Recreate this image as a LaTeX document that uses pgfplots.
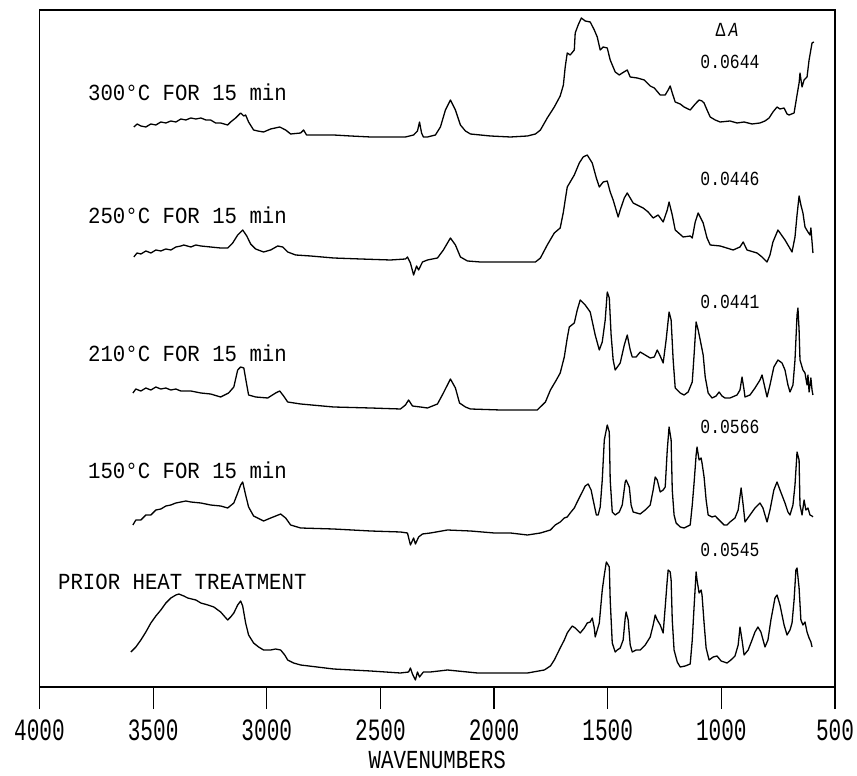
\documentclass[border=0pt]{standalone}
\usepackage{pgfplots}
\pgfplotsset{compat=1.18}
\usepackage{fontspec}
\setmainfont{Liberation Mono}
\newfontfamily\labfont{Liberation Mono}[FakeStretch=0.9]
\newfontfamily\numfont{Liberation Mono}[FakeStretch=0.82]
\newfontfamily\tickfont{Liberation Mono}[FakeStretch=0.68]
\newfontfamily\xlabfont{Liberation Mono}[FakeStretch=0.8]

\pgfplotstableread{
w y
3585 560
3570 563
3554 561
3532 560
3510 563
3488 562
3466 565
3444 564
3422 566
3400 565
3378 568
3356 567
3334 569
3312 568
3290 569
3268 567
3247 567
3225 564
3203 564
3172 562
3159 565
3137 569
3115 574
3101 571
3093 572
3080 565
3058 557
3040 556
3014 555
2983 558
2943 560
2917 557
2895 553
2851 554
2838 557
2825 552
2763 552
2706 552
2631 551
2543 550
2456 550
2390 550
2354 552
2337 556
2328 565
2319 554
2311 550
2293 550
2258 552
2236 560
2214 577
2192 587
2170 577
2148 562
2126 556
2104 553
2016 551
1928 550
1853 551
1818 553
1796 557
1766 569
1735 580
1709 591
1695 602
1687 620
1678 634
1665 632
1647 637
1643 654
1630 662
1616 669
1599 666
1577 665
1559 657
1546 650
1533 637
1520 640
1502 639
1489 627
1467 615
1449 612
1436 614
1414 617
1401 610
1370 609
1339 607
1313 601
1295 599
1269 592
1247 592
1234 597
1225 601
1216 594
1203 585
1181 583
1164 580
1137 577
1115 583
1098 587
1085 586
1076 584
1063 577
1049 570
1027 567
1005 565
962 566
931 564
900 565
865 563
830 564
808 566
790 569
773 575
755 580
742 578
724 579
711 573
702 572
680 574
667 592
658 604
654 614
645 600
636 607
623 610
614 627
601 644
593 645
}\specA

\pgfplotstableread{
w y
3585 430
3571 434
3554 433
3532 436
3510 434
3488 437
3466 436
3444 438
3422 437
3400 440
3378 441
3365 442
3334 440
3312 442
3290 441
3247 440
3203 439
3172 439
3150 444
3128 452
3106 457
3088 451
3071 443
3049 438
3014 435
2983 437
2952 441
2930 440
2908 435
2873 432
2807 431
2706 429
2587 428
2456 427
2390 428
2381 430
2368 424
2354 412
2341 421
2332 417
2315 425
2293 427
2249 429
2223 437
2192 449
2170 442
2148 430
2117 426
2060 425
1928 425
1818 425
1796 429
1766 442
1735 454
1709 459
1695 475
1687 487
1678 500
1665 505
1647 512
1625 524
1608 530
1590 532
1568 524
1550 509
1537 500
1520 505
1502 506
1489 495
1476 487
1454 470
1445 477
1427 489
1414 494
1388 484
1344 479
1322 475
1300 469
1278 472
1256 465
1238 477
1230 485
1216 472
1203 457
1168 450
1137 451
1128 449
1115 465
1102 474
1080 464
1063 449
1049 442
1005 441
948 437
918 440
904 445
887 437
843 434
821 430
799 425
786 432
773 445
751 457
720 447
689 435
676 450
667 472
658 491
650 482
641 474
632 460
619 455
610 452
606 459
597 434
}\specB

\pgfplotstableread{
w y
3589 294
3576 298
3554 296
3532 299
3510 297
3488 300
3466 298
3444 299
3422 297
3400 298
3378 296
3334 296
3290 294
3247 293
3203 290
3168 294
3145 300
3128 317
3115 320
3101 319
3088 302
3080 292
3049 290
2996 289
2961 294
2943 296
2926 291
2908 285
2851 283
2706 280
2543 279
2412 278
2390 282
2376 287
2359 281
2324 280
2293 279
2249 283
2223 294
2192 308
2170 299
2152 284
2126 280
2104 278
1972 277
1810 277
1774 285
1752 297
1726 307
1709 314
1691 330
1678 349
1669 360
1647 364
1634 377
1621 387
1599 382
1577 375
1555 352
1537 337
1524 345
1511 367
1502 395
1493 389
1485 352
1476 327
1467 317
1445 324
1427 342
1414 352
1401 337
1392 330
1375 330
1357 335
1335 332
1313 329
1295 330
1282 337
1269 331
1256 324
1243 347
1230 375
1221 367
1212 327
1203 299
1181 294
1164 292
1146 295
1128 305
1120 332
1111 365
1102 357
1093 347
1080 332
1071 310
1058 294
1041 289
1023 291
1010 295
997 291
984 289
962 289
931 292
918 297
909 310
900 297
896 290
874 292
852 299
830 307
821 312
808 299
799 290
786 302
769 320
751 327
733 324
720 317
707 302
698 295
685 302
676 327
667 372
663 379
658 357
654 327
641 317
632 314
623 302
619 312
614 295
606 309
601 297
597 292
}\specC

\pgfplotstableread{
w y
3589 162
3576 167
3554 167
3532 172
3510 172
3488 177
3466 178
3444 181
3422 182
3400 184
3378 185
3356 186
3334 185
3290 184
3247 182
3203 181
3172 179
3145 184
3128 194
3115 202
3106 205
3093 192
3080 180
3058 171
3040 169
3014 166
2983 169
2939 173
2917 169
2895 162
2851 159
2706 158
2543 156
2412 155
2381 154
2368 142
2354 149
2346 143
2332 150
2315 153
2280 154
2205 157
2104 156
1999 154
1928 154
1853 152
1796 154
1752 157
1731 162
1709 165
1691 169
1678 170
1665 174
1647 179
1630 187
1612 195
1599 201
1586 203
1573 197
1564 187
1550 172
1542 172
1533 180
1524 207
1515 247
1502 262
1493 255
1489 207
1480 175
1467 172
1449 175
1436 182
1423 205
1419 207
1405 200
1397 182
1388 175
1357 173
1335 177
1313 182
1300 197
1291 210
1282 207
1269 195
1256 197
1247 200
1238 237
1230 260
1221 247
1216 197
1208 172
1199 164
1181 160
1164 159
1137 162
1128 182
1120 204
1111 232
1107 240
1098 227
1089 229
1085 224
1076 210
1067 187
1058 172
1041 170
1027 171
1010 167
988 162
975 162
962 165
940 169
926 177
913 199
904 182
896 165
874 172
852 179
830 184
817 179
799 165
786 177
769 197
755 205
742 197
720 184
707 175
698 172
685 182
676 202
667 235
658 227
654 182
645 172
636 187
628 177
619 179
610 172
601 171
597 170
}\specD

\pgfplotstableread{
w y
3598 35
3576 40
3554 47
3532 55
3510 64
3488 71
3466 77
3444 84
3422 89
3400 92
3387 93
3365 91
3348 89
3312 87
3290 84
3259 82
3233 80
3203 75
3172 67
3159 70
3145 74
3128 82
3115 86
3106 81
3093 64
3080 52
3058 44
3036 40
3014 37
2983 37
2961 38
2939 37
2921 32
2908 27
2882 24
2851 22
2706 18
2543 16
2412 14
2376 15
2368 19
2359 13
2346 7
2337 15
2328 10
2311 15
2280 15
2205 17
2073 14
1972 14
1853 14
1779 17
1752 21
1735 27
1709 39
1691 47
1678 54
1669 57
1656 61
1643 59
1621 54
1603 59
1590 64
1577 65
1568 69
1559 59
1555 50
1546 57
1537 64
1524 97
1515 112
1506 125
1498 122
1493 120
1489 87
1480 44
1467 35
1458 37
1445 39
1432 47
1423 69
1419 75
1410 67
1401 42
1392 35
1375 37
1357 37
1335 42
1313 50
1300 62
1291 72
1282 67
1269 62
1256 54
1247 80
1238 107
1234 117
1225 115
1221 107
1216 67
1208 37
1194 25
1181 20
1159 21
1137 23
1128 47
1120 80
1111 115
1107 107
1098 94
1089 97
1085 92
1076 64
1067 39
1054 27
1036 30
1019 31
1001 26
975 24
958 27
940 31
926 42
918 60
909 47
900 32
882 37
865 47
852 55
839 60
826 55
808 40
795 47
782 67
764 89
755 92
742 82
724 62
711 52
698 57
689 64
680 87
672 117
667 119
658 99
650 67
641 62
632 65
623 55
614 49
606 45
601 40
}\specE

\begin{document}
\begin{tikzpicture}
\useasboundingbox (0,0) rectangle (857bp,776bp);
\begin{axis}[
  at={(39.5bp,89bp)}, anchor=south west,
  scale only axis,
  width=795.5bp, height=677bp,
  xmin=500, xmax=4000, ymin=0, ymax=677,
  x dir=reverse,
  xtick={4000,3500,3000,2500,2000,1500,1000,500},
  ytick=\empty,
  xtick pos=lower,
  tick align=outside,
  major tick length=22bp,
  every tick/.style={black, line width=1.2bp},
  axis line style={line width=1.2bp},
  /pgf/number format/assume math mode=true,
  /pgf/number format/1000 sep={},
  xticklabel style={font=\tickfont\fontsize{31bp}{31bp}\selectfont, inner sep=0pt, anchor=center, yshift=-21bp},
  xlabel={WAVENUMBERS},
  xlabel style={font=\xlabfont\fontsize{26bp}{26bp}\selectfont, at={(axis description cs:0.5,-0.121)}, anchor=base, inner sep=0pt},
  clip=false,
]
\addplot[black, line width=1.3bp, line join=round] table[x=w,y=y] {\specA};
\addplot[black, line width=1.3bp, line join=round] table[x=w,y=y] {\specB};
\addplot[black, line width=1.3bp, line join=round] table[x=w,y=y] {\specC};
\addplot[black, line width=1.3bp, line join=round] table[x=w,y=y] {\specD};
\addplot[black, line width=1.3bp, line join=round] table[x=w,y=y] {\specE};

\begin{scope}[every node/.style={inner sep=0pt, font=\labfont\fontsize{23bp}{23bp}\selectfont}]
\node[anchor=west] at (axis cs:3787,595) {300°C FOR 15 min};
\node[anchor=west] at (axis cs:3787,472) {250°C FOR 15 min};
\node[anchor=west] at (axis cs:3787,334) {210°C FOR 15 min};
\node[anchor=west] at (axis cs:3787,217) {150°C FOR 15 min};
\node[anchor=west] at (axis cs:3919,105) {PRIOR HEAT TREATMENT};
\end{scope}
\begin{scope}[every node/.style={inner sep=0pt, font=\numfont\fontsize{20bp}{20bp}\selectfont}]
\node at (axis cs:975,657) {Δ\,\textit{A}};
\node at (axis cs:962,625) {0.0644};
\node at (axis cs:962,508) {0.0446};
\node at (axis cs:962,385) {0.0441};
\node at (axis cs:962,260) {0.0566};
\node at (axis cs:962,137) {0.0545};
\end{scope}
\end{axis}
\end{tikzpicture}
\end{document}
